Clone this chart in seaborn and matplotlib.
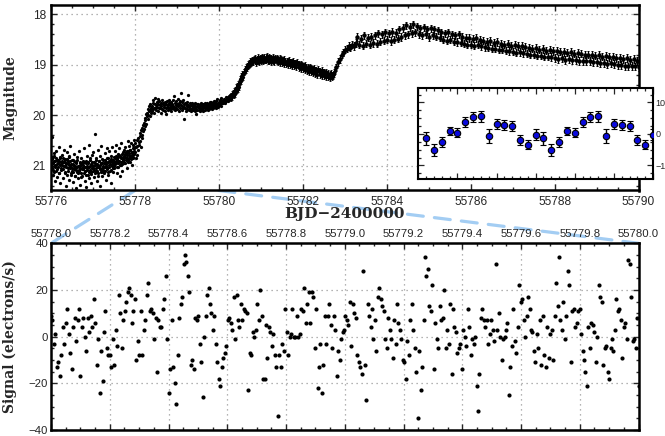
import numpy as np
import pandas as pd
import matplotlib
matplotlib.use("Agg")
import matplotlib.pyplot as plt
import matplotlib.ticker as mticker
import matplotlib.transforms as mtransforms
from matplotlib.patches import ConnectionPatch
import seaborn as sns

# ---------------- data ----------------
# light curve, segment A1: 55776.00 - 55778.00 (magnitudes)
SPAN_A1 = (55776.0, 55778.0)
mag_a1 = [
    20.95, 20.44, 21.05, 20.82, 21.18, 20.9, 20.75, 21.3, 20.98, 21.1, 20.7, 20.88, 21.22, 20.95, 21.02, 20.62, 21.15, 20.85, 21.35, 20.97,
    21.08, 20.78, 20.92, 21.25, 20.68, 21.0, 21.12, 20.86, 21.4, 20.95, 20.72, 21.18, 21.05, 20.9, 21.28, 20.8, 21.02, 20.6, 21.15, 20.98,
    21.1, 20.88, 21.32, 21.0, 20.76, 21.2, 21.05, 20.92, 21.45, 21.12, 20.82, 21.0, 21.25, 20.7, 21.08, 21.38, 20.95, 21.15, 20.85, 21.05,
    21.2, 20.9, 21.02, 20.65, 21.3, 21.1, 20.95, 21.42, 20.8, 21.08, 21.18, 20.92, 20.58, 21.25, 21.0, 20.85, 21.12, 21.35, 20.98, 20.78,
    21.05, 20.72, 21.22, 20.95, 20.37, 21.1, 20.85, 21.3, 20.98, 20.68, 21.15, 21.02, 20.9, 21.4, 20.8, 21.08, 20.6, 21.2, 20.95, 21.12,
    20.88, 21.15, 20.75, 21.02, 20.92, 21.28, 20.65, 21.05, 20.85, 21.18, 20.98, 20.7, 21.1, 20.9, 21.35, 20.8, 21.0, 20.62, 21.12, 20.95,
    20.82, 21.05, 20.7, 20.95, 20.58, 21.15, 20.88, 20.76, 21.02, 20.65, 20.92, 21.2, 20.8, 20.55, 20.98, 20.85, 21.1, 20.72, 20.9, 20.68,
    20.85, 20.62, 20.95, 20.75, 21.05, 20.7, 20.5, 20.88, 20.78, 20.6, 20.92, 20.68, 20.82, 20.55, 20.98, 20.72, 20.58, 20.85, 20.65, 20.48,
]
# second interleaved cadence of the same interval
mag_a1_b = [
    20.92, 21.0, 20.86, 21.08, 20.95, 20.8, 21.12, 20.9, 21.02, 20.84, 20.97, 21.06, 20.88, 20.94, 21.15, 20.9, 20.99, 20.82, 21.04, 20.92,
    20.98, 20.9, 21.06, 20.85, 21.0, 20.93, 21.14, 20.88, 20.96, 21.02, 20.86, 21.1, 20.94, 20.99, 20.83, 21.05, 20.91, 21.18, 20.97, 20.89,
    21.04, 20.96, 21.12, 20.9, 21.06, 21.0, 21.2, 20.94, 21.08, 21.02, 20.88, 21.15, 21.0, 21.1, 20.92, 21.05, 21.22, 20.98, 21.07, 20.95,
    21.06, 20.98, 21.14, 20.92, 21.02, 21.1, 20.9, 21.18, 21.0, 21.05, 20.95, 21.12, 21.03, 20.89, 21.08, 21.16, 20.97, 21.04, 20.93, 21.1,
    21.0, 21.08, 20.92, 21.15, 20.98, 21.04, 20.88, 21.1, 20.96, 21.2, 21.02, 20.9, 21.06, 20.99, 21.13, 20.94, 21.05, 20.87, 21.0, 21.09,
    20.95, 21.03, 20.88, 21.1, 20.97, 21.0, 20.85, 21.06, 20.93, 21.12, 20.9, 21.02, 20.96, 20.86, 21.08, 20.99, 20.92, 21.04, 20.89, 21.0,
    20.9, 20.84, 20.97, 20.8, 20.93, 20.87, 21.02, 20.82, 20.95, 20.78, 20.9, 20.99, 20.85, 20.92, 20.76, 20.96, 20.88, 20.83, 20.94, 20.8,
    20.82, 20.76, 20.88, 20.72, 20.85, 20.79, 20.92, 20.7, 20.84, 20.75, 20.8, 20.68, 20.86, 20.74, 20.78, 20.65, 20.82, 20.7, 20.76, 20.62,
]
# segment A2: 55778.00 - 55780.30
SPAN_A2 = (55778.0, 55780.3)
mag_a2 = [
    20.72, 20.55, 20.85, 20.62, 20.48, 20.78, 20.6, 20.45, 20.68, 20.52,
    20.58, 20.35, 20.5, 20.42, 20.62, 20.3, 20.45, 20.25, 20.4, 20.2,
    20.32, 20.15, 20.28, 20.05, 20.22, 20.1, 19.98, 20.18, 20.02, 19.95,
    20.0, 19.88, 20.08, 19.92, 19.82, 20.02, 19.9, 19.78, 19.95, 19.85,
    19.82, 19.92, 19.75, 19.88, 19.7, 19.85, 19.95, 19.78, 19.65, 19.86,
    19.8, 19.9, 19.74, 19.84, 19.68, 19.92, 19.78, 19.86, 19.72, 19.8,
    19.85, 19.76, 19.95, 19.82, 19.7, 19.88, 19.78, 19.9, 19.75, 19.84,
    19.8, 19.92, 19.74, 19.86, 19.78, 19.98, 19.72, 19.84, 19.8, 19.9,
    19.76, 19.85, 19.7, 19.88, 19.8, 19.92, 19.74, 19.83, 19.78, 19.86,
    19.82, 19.7, 19.88, 19.62, 19.84, 19.76, 19.9, 19.72, 19.8, 19.85,
    19.78, 19.88, 19.68, 19.82, 19.75, 19.92, 19.8, 19.72, 19.86, 19.55,
    19.8, 19.74, 19.9, 19.82, 19.7, 19.86, 19.78, 19.84, 20.08, 19.76,
    19.85, 19.78, 19.92, 19.74, 19.82, 19.88, 19.8, 19.6, 19.84, 19.9,
    19.82, 19.76, 19.88, 19.8, 19.92, 19.75, 19.85, 19.78, 19.9, 19.82,
    19.86, 19.8, 19.92, 19.76, 19.84, 19.88, 19.98, 19.82, 19.78, 19.9,
    19.84, 19.78, 19.9, 19.82, 19.86, 19.92, 19.8, 19.88, 19.76, 19.85,
    19.82, 19.88, 19.78, 19.92, 19.84, 19.8, 19.86, 19.75, 19.9, 19.83,
    19.8, 19.86, 19.76, 19.9, 19.82, 19.85, 19.78, 19.88, 19.74, 19.84,
    19.78, 19.84, 19.74, 19.88, 19.8, 19.82, 19.76, 19.86, 19.72, 19.8,
    19.76, 19.82, 19.72, 19.85, 19.78, 19.8, 19.68, 19.84, 19.75, 19.79,
    19.74, 19.8, 19.7, 19.78, 19.72, 19.82, 19.66, 19.76, 19.74, 19.7,
    19.72, 19.76, 19.68, 19.74, 19.7, 19.75, 19.64, 19.72, 19.69, 19.66,
    19.68, 19.72, 19.64, 19.7, 19.62, 19.66, 19.6, 19.65, 19.58, 19.62,
]
# segment A3: 55780.30 - 55782.80
SPAN_A3 = (55780.3, 55782.8)
mag_a3 = [
    19.66, 19.58, 19.63, 19.55, 19.6, 19.52, 19.57, 19.5,
    19.52, 19.45, 19.5, 19.42, 19.47, 19.38, 19.44, 19.36,
    19.35, 19.28, 19.32, 19.22, 19.27, 19.18, 19.24, 19.15,
    19.15, 19.08, 19.12, 19.04, 19.1, 19.02, 19.06, 18.99,
    19.02, 18.96, 19.0, 18.93, 18.98, 18.92, 18.97, 18.91,
    18.95, 18.9, 18.94, 18.88, 18.93, 18.87, 18.96, 18.9,
    18.93, 18.88, 18.92, 18.85, 18.94, 18.89, 18.91, 18.86,
    18.92, 18.86, 18.9, 18.84, 18.93, 18.87, 18.91, 18.85,
    18.9, 18.85, 18.91, 18.83, 18.89, 18.86, 18.92, 18.84,
    18.93, 18.87, 18.91, 18.86, 18.94, 18.88, 18.9, 18.85,
    18.92, 18.88, 18.95, 18.86, 18.91, 18.89, 18.93, 18.87,
    18.94, 18.88, 18.92, 18.9, 18.96, 18.87, 18.93, 18.89,
    18.96, 18.9, 18.95, 18.91, 18.98, 18.89, 18.94, 18.92,
    18.98, 18.92, 18.97, 18.93, 19.0, 18.91, 18.96, 18.94,
    19.0, 18.94, 18.99, 18.95, 19.02, 18.93, 18.98, 18.96,
    19.02, 18.96, 19.01, 18.97, 19.05, 18.95, 19.0, 18.98,
    19.06, 18.99, 19.04, 19.0, 19.08, 18.98, 19.03, 19.01,
    19.09, 19.02, 19.07, 19.03, 19.11, 19.01, 19.06, 19.04,
    19.12, 19.05, 19.1, 19.06, 19.14, 19.04, 19.09, 19.07,
    19.15, 19.08, 19.13, 19.09, 19.17, 19.07, 19.12, 19.1,
    19.18, 19.1, 19.16, 19.12, 19.2, 19.09, 19.15, 19.13,
    19.2, 19.12, 19.18, 19.14, 19.22, 19.11, 19.17, 19.15,
    19.23, 19.15, 19.21, 19.17, 19.25, 19.14, 19.2, 19.18,
    19.25, 19.17, 19.23, 19.19, 19.27, 19.16, 19.22, 19.2,
    19.24, 19.2, 19.22, 19.15, 19.18, 19.12, 19.1, 19.05,
]
MAG_A3_ERR = 0.06
# segment B (with error bars): 55782.80 - 55790.30
SPAN_B = (55782.8, 55790.3)
mag_b = [
    19.05, 18.95, 18.88, 18.8, 18.76, 18.7, 18.68, 18.63, 18.66, 18.6, 18.63, 18.57,
    18.45, 18.6, 18.48, 18.62, 18.42, 18.58, 18.46, 18.6, 18.44, 18.57, 18.42, 18.58,
    18.38, 18.54, 18.4, 18.52, 18.36, 18.5, 18.38, 18.53, 18.35, 18.5, 18.37, 18.48,
    18.3, 18.45, 18.27, 18.42, 18.22, 18.4, 18.25, 18.38, 18.2, 18.36, 18.24, 18.4,
    18.28, 18.42, 18.26, 18.4, 18.3, 18.45, 18.28, 18.42, 18.3, 18.44, 18.32, 18.46,
    18.36, 18.5, 18.38, 18.52, 18.36, 18.5, 18.4, 18.54, 18.42, 18.55, 18.4, 18.56,
    18.45, 18.58, 18.46, 18.6, 18.47, 18.6, 18.48, 18.62, 18.47, 18.6, 18.5, 18.63,
    18.52, 18.65, 18.54, 18.66, 18.53, 18.68, 18.56, 18.68, 18.55, 18.7, 18.58, 18.7,
    18.6, 18.72, 18.58, 18.73, 18.62, 18.74, 18.6, 18.76, 18.63, 18.75, 18.62, 18.77,
    18.65, 18.78, 18.66, 18.8, 18.68, 18.8, 18.67, 18.82, 18.7, 18.82, 18.69, 18.84,
    18.72, 18.84, 18.7, 18.85, 18.73, 18.86, 18.72, 18.88, 18.74, 18.87, 18.75, 18.9,
    18.76, 18.88, 18.74, 18.9, 18.78, 18.9, 18.77, 18.92, 18.78, 18.93, 18.8, 18.92,
    18.8, 18.92, 18.8, 18.94, 18.82, 18.95, 18.8, 18.96, 18.84, 18.96, 18.83, 18.98,
    18.85, 18.97, 18.84, 18.98, 18.87, 19.0, 18.86, 19.0, 18.88, 19.02, 18.87, 19.03,
    18.9, 19.02, 18.88, 19.03, 18.92, 19.04, 18.9, 19.05, 18.93, 19.06, 18.92, 19.07,
]
MAG_B_ERR = 0.075

# inset: folded residuals (two cycles of the same 15 bins)
inset_dev = [-1.4, -5.1, -2.6, 1.0, 0.4, 3.8, 5.4, 5.6, -0.6, 3.1, 2.9, 2.6, -1.9, -3.4, -0.2]
inset_err = [2.1, 1.9, 1.5, 1.3, 1.4, 1.6, 1.6, 1.8, 2.3, 1.6, 1.6, 1.6, 1.6, 1.5, 1.8]
INSET_NBINS = 15

# lower panel: Kepler signal, 55778.0 - 55780.0 (electrons/s)
SPAN_SIG = (55778.0, 55780.0)
signal = [
    9, 7, -3, 1, -13, -11, -17, -8, 4, -3, 6, 12, 1, -7, -14, 4, 8, -2, 7, 12,
    -17, 4, 8, 0, -6, 8, 2, 9, 4, 16, 6, -12, -1, -24, -6, -19, 2, 11, -5, -8,
    -8, -13, -1, -12, 3, -4, 18, 10, -5, 7, 11, 15, 19, 21, 18, 6, 11, 16, -10, -2,
    -8, 11, -8, 3, 7, 18, 23, 11, 12, 10, -1, 8, -15, 7, 4,
    4, 12, 16, 26, -1, -24, -14, 7, -13, -20, -29, -8, 8, 14, 17, 31, 35, 32, 26, 19,
    -12, -10, -14, 8, 7, 9, -3, -11, -26, 0, 9, 18, 21, 14, 10, 3, 9, -3, -11, -18,
    -21, -13, -9, -7, -4, 7, 8, 6, 3, 17, -1, 18, 7, 4, 14, 7, 12, 11, 10, -23,
    -7, -8, 2, 0, 3, 14, 7, 20, 9, -18, -18, 5, -9, 4, 2, -4, 1, -8, -13, -34,
    -8, -13, -3, -6, 12, 2, -8, 0, 1, 12, 0, 0, 9, 0, 1, 12, 11, 21, 6, 14,
    19, 6, 19, 17, -5, 12, -22, -13, -3, -24, -12, 9, -3, 9, 14, 5, -5, 9, 3, -17,
    -6, -10, -1, 2, 3, 9, 7, 5, 15, -4, 14, 10, 8, -8, -11, -13, -16, 28, -12, -27,
    14, 9, 4, 12, -1, 7, -6, 17, 21, 16, 13, 11, -1, -5, 8, 3, -1, -9, 7, -3,
    14, 6, 3, -1, -10, -11, -18, -2, -8, 7, 14, 3, -5, -15, -35, -6, -23, -13, 7, 34,
    26, 29, 13, 11, 22, -14, 6, -1, -5, 13, 7, 8, 20, -5, 3, -3, 14, -16, 12, 4,
    2, -7, -5, -3, -14, 3, 0, -4, 12, 4, -8, -1, -3, 0, -21, -32, -16, 8, 12, 7,
    4, 7, -3, 1, 7, 3, -2, 31, 3, 10, 0, -10, -1, 0, 3, 6, -25, -13, -4, 12,
    -2, -7, 4, 22, 15, 16, 7, 0, 9, 17, 12, 3, 2, -6, -11, 1, -5, 7, -12, 9,
    -8, -13, 4, -9, 1, 3, -10, 9, 23, 13, 34, 7, 3, 15, -1, 9, 28, 22, -11, 11,
    12, 4, 6, 11, 12, 1, -6, -10, -15, -21, 4, -5, 6, 5, 2, -11, 0, 22, 17, 15,
    -12, -5, -4, -15, -18, -5, -1, -6, 3, 16, 11, 12, 7, -9, 4, 6, -1, 33, 31, 17, -2, -1, -5, 8, -21,
]

# ---------------- assemble tables ----------------
def seg_times(span, n, half=False):
    t = np.linspace(span[0], span[1], n, endpoint=False)
    if half:
        t = t + (span[1] - span[0]) / n / 2.0
    return t

t_a3 = seg_times(SPAN_A3, len(mag_a3))
df_top = pd.concat([
    pd.DataFrame({"bjd": seg_times(SPAN_A1, len(mag_a1)), "mag": mag_a1}),
    pd.DataFrame({"bjd": seg_times(SPAN_A1, len(mag_a1_b), half=True), "mag": mag_a1_b}),
    pd.DataFrame({"bjd": seg_times(SPAN_A2, len(mag_a2)), "mag": mag_a2}),
    pd.DataFrame({"bjd": t_a3, "mag": mag_a3}),
], ignore_index=True)
t_b = seg_times(SPAN_B, len(mag_b))
df_sig = pd.DataFrame({"bjd": np.linspace(SPAN_SIG[0], SPAN_SIG[1], len(signal)), "sig": signal})
phase = np.arange(1, 2 * INSET_NBINS + 1) / INSET_NBINS
dev2 = inset_dev + inset_dev
err2 = inset_err + inset_err

# ---------------- style ----------------
sns.set_style("ticks")
plt.rcParams['font.family'] = ['Liberation Sans', 'DejaVu Sans']
plt.rcParams['axes.unicode_minus'] = True

W, H = 665, 436
fig = plt.figure(figsize=(W / 100, H / 100), dpi=100)

def rect(l, t, r, b):
    return [l / W, 1 - b / H, (r - l) / W, (b - t) / H]

ax_top = fig.add_axes(rect(51, 4.7, 638.5, 190.5))
ax_bot = fig.add_axes(rect(51, 243.3, 638.5, 430))
ax_in = fig.add_axes(rect(418.3, 88.3, 653, 179.3))

label_font = dict(family=['DejaVu Serif'], weight='bold')
grid_kw = dict(ls=(0, (1, 3)), color='#9a9a9a', lw=0.9)

# ---- top panel ----
sns.scatterplot(data=df_top, x="bjd", y="mag", ax=ax_top, s=5.5, color='black',
                linewidth=0, legend=False, zorder=3)
ax_top.errorbar(t_a3, mag_a3, yerr=MAG_A3_ERR, fmt='none', ecolor='black',
                elinewidth=0.8, capsize=0.8, capthick=0.6, zorder=3)
ax_top.errorbar(t_b, mag_b, yerr=MAG_B_ERR, fmt='o', ms=2.2, color='black',
                elinewidth=0.9, capsize=1.0, capthick=0.7, zorder=3)
ax_top.set_xlim(55776, 55790)
ax_top.set_ylim(21.49, 17.81)
ax_top.xaxis.set_major_locator(mticker.MultipleLocator(2))
ax_top.xaxis.set_minor_locator(mticker.MultipleLocator(0.5))
ax_top.xaxis.set_major_formatter(mticker.FormatStrFormatter('%d'))
ax_top.yaxis.set_major_locator(mticker.MultipleLocator(1))
ax_top.yaxis.set_minor_locator(mticker.MultipleLocator(0.2))
ax_top.yaxis.set_major_formatter(mticker.FormatStrFormatter('%d'))
ax_top.grid(True, which='major', **grid_kw)
ax_top.set_xlabel('BJD\u22122400000', fontsize=11, **label_font)
ax_top.xaxis.set_label_coords(0.5, -0.09)
ax_top.set_ylabel('Magnitude', fontsize=10, **label_font)
ax_top.yaxis.set_label_coords(-0.058, 0.5)

# ---- bottom panel ----
sns.scatterplot(data=df_sig, x="bjd", y="sig", ax=ax_bot, s=9, color='black',
                linewidth=0, legend=False, zorder=3)
ax_bot.set_xlim(55778.0, 55780.0)
ax_bot.set_ylim(-40, 40)
ax_bot.xaxis.set_major_locator(mticker.MultipleLocator(0.2))
ax_bot.xaxis.set_minor_locator(mticker.MultipleLocator(0.05))
ax_bot.xaxis.set_major_formatter(mticker.FormatStrFormatter('%.1f'))
ax_bot.yaxis.set_major_locator(mticker.MultipleLocator(20))
ax_bot.yaxis.set_minor_locator(mticker.MultipleLocator(5))
ax_bot.grid(True, which='major', **grid_kw)
ax_bot.set_xlabel('')
ax_bot.set_ylabel('Signal (electrons/s)', fontsize=10, **label_font)
ax_bot.yaxis.set_label_coords(-0.058, 0.5)

for ax in (ax_top, ax_bot):
    ax.tick_params(which='both', direction='in', top=True, right=True, width=1.0, labelsize=8.6)
    ax.tick_params(which='major', length=4)
    ax.tick_params(which='minor', length=2)
    for sp in ax.spines.values():
        sp.set_linewidth(1.8)
        sp.set_color('black')
ax_top.tick_params(axis='x', pad=4)
ax_bot.tick_params(axis='x', labeltop=True, labelbottom=False, pad=3, labelsize=8.2)
ax_bot.tick_params(axis='y', pad=2, labelsize=8.2)

# ---- inset ----
ax_in.set_facecolor('white')
ax_in.errorbar(phase, dev2, yerr=err2, fmt='o', ms=4.6, mfc='#0a0adc', mec='black',
               mew=0.8, ecolor='black', elinewidth=1.0, capsize=2.4, capthick=1.0, zorder=3)
ax_in.set_xlim(0, 2)
ax_in.set_ylim(-14.4, 14.5)
ax_in.xaxis.set_major_locator(mticker.MultipleLocator(1 / 3))
ax_in.xaxis.set_minor_locator(mticker.MultipleLocator(1 / INSET_NBINS))
ax_in.yaxis.set_major_locator(mticker.MultipleLocator(10))
ax_in.yaxis.set_minor_locator(mticker.MultipleLocator(2.5))
ax_in.tick_params(which='both', direction='in', top=True, bottom=True, left=True, right=True,
                  labelleft=False, labelright=True, labelbottom=False, width=0.9, labelsize=6.5, pad=2)
ax_in.tick_params(which='major', length=4)
ax_in.tick_params(which='minor', length=2)
for sp in ax_in.spines.values():
    sp.set_linewidth(1.5)
    sp.set_color('black')
ax_in.set_xlabel('')
ax_in.set_ylabel('')

# ---- zoom connectors ----
for xv in (SPAN_SIG[0], SPAN_SIG[1]):
    trA = mtransforms.blended_transform_factory(ax_top.transData, ax_top.transAxes)
    trB = mtransforms.blended_transform_factory(ax_bot.transData, ax_bot.transAxes)
    con = ConnectionPatch(xyA=(xv, 0), coordsA=trA, xyB=(xv, 1), coordsB=trB,
                          color='#a3cdf3', lw=2.3, ls=(0, (5, 3.5)), zorder=0)
    con.set_clip_on(False)
    fig.add_artist(con)

fig.savefig('out.png', dpi=100)
